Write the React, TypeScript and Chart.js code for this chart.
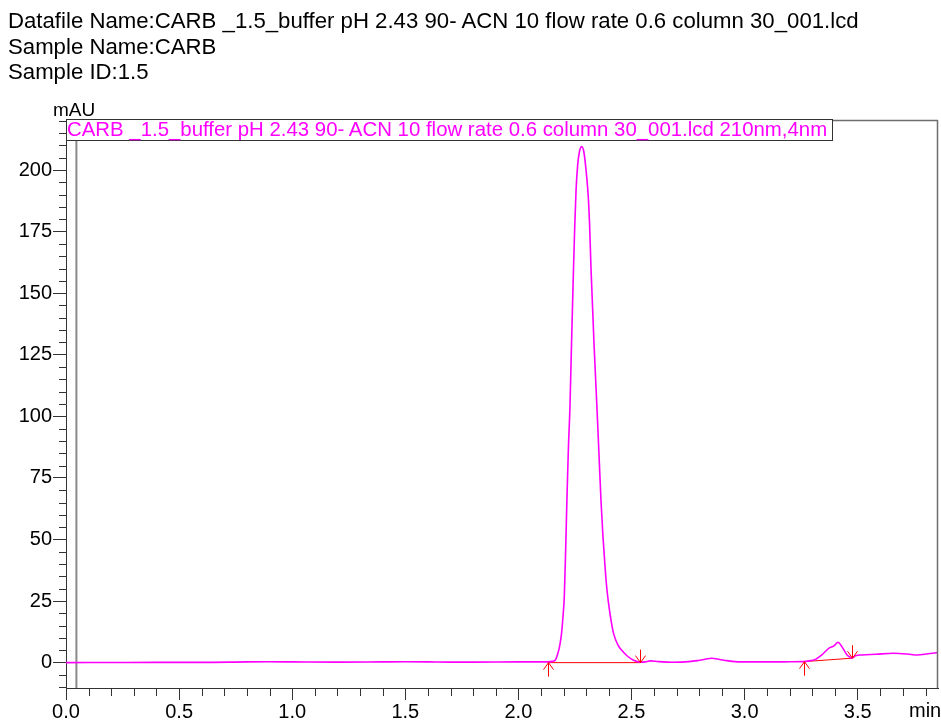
import { useEffect, useRef } from "react";
import { Chart, registerables } from "chart.js";

Chart.register(...registerables);

const headerLines = [
  "Datafile Name:CARB _1.5_buffer pH 2.43 90- ACN 10 flow rate 0.6 column 30_001.lcd",
  "Sample Name:CARB",
  "Sample ID:1.5",
];
const legendLabel = "CARB _1.5_buffer pH 2.43 90- ACN 10 flow rate 0.6 column 30_001.lcd 210nm,4nm";
const yUnit = "mAU";
const xUnit = "min";

const timeMin = [
  0, 0.2, 0.4, 0.6, 0.8, 0.9, 1.0, 1.2, 1.4, 1.5, 1.6, 1.7, 1.8, 2.0, 2.1, 2.13, 2.15, 2.162,
  2.175, 2.184, 2.191, 2.197, 2.203, 2.209, 2.215, 2.221, 2.228, 2.235, 2.243, 2.249, 2.255,
  2.262, 2.27, 2.28, 2.29, 2.3, 2.309, 2.315, 2.321, 2.335, 2.348, 2.357, 2.365, 2.374, 2.383,
  2.39, 2.398, 2.41, 2.42, 2.44, 2.457, 2.48, 2.507, 2.538, 2.56, 2.582, 2.62, 2.685,
  2.74, 2.789, 2.82, 2.855, 2.89, 2.922, 2.98, 3.05, 3.13, 3.2, 3.261, 3.29, 3.313, 3.34, 3.372,
  3.395, 3.413, 3.43, 3.453, 3.467, 3.475, 3.49, 3.519, 3.58, 3.659, 3.72, 3.763, 3.81, 3.855,
];
const signalMAU = [
  0, 0.05, 0.1, 0.1, 0.3, 0.35, 0.3, 0.2, 0.3, 0.35, 0.3, 0.2, 0.2, 0.3, 0.3, 0.3, 0.5, 0.9,
  3.9, 7.5, 12.1, 18.5, 27, 46, 68, 87, 104, 130, 158, 177, 192,
  202, 207.5, 209.5, 207, 199, 189, 177, 160, 128, 102, 83, 66, 51, 39,
  31, 24.5, 17, 12.1, 7.2, 5, 2.8, 1.1, 0.2, 0.3, 0.7, 0.4, 0.15,
  0.3, 0.8, 1.3, 1.8, 1.3, 0.8, 0.3, 0.3, 0.3, 0.35, 0.4, 0.8, 1.3, 3.0, 5.8,
  6.8, 8.3, 6.5, 3.1, 2.2, 1.8, 2.8, 3.1, 3.4, 3.8, 3.5, 3.1, 3.6, 4.1,
];

const peakStartTimes = [2.131, 3.261];
const peakStartLevels = [0, 0.4];
const peakEndTimes = [2.538, 3.475];
const peakEndLevels = [0, 1.8];
const markerLineTime = 0.046;

const xRange = [0, 3.855];
const yRange = [-10.3, 220.3];
const xMajorStep = 0.5;
const xMinorStep = 0.1;
const yMajorStep = 25;
const yMinorStep = 5;

const FONT = "'Liberation Sans', Arial, sans-serif";

const decorPlugin = {
  id: "decor",
  afterDraw(chart: any) {
    const { ctx, chartArea, scales } = chart;
    const { left, right, top, bottom } = chartArea;
    const x = scales.x;
    const y = scales.y;
    ctx.save();
    ctx.strokeStyle = "#333";
    ctx.lineWidth = 1;
    ctx.beginPath();
    const yRatio = Math.round(yMajorStep / yMinorStep);
    for (let i = Math.ceil(yRange[0] / yMinorStep); i * yMinorStep <= yRange[1]; i++) {
      if (i % yRatio === 0) continue;
      const py = Math.round(y.getPixelForValue(i * yMinorStep)) + 0.5;
      ctx.moveTo(left - 7, py);
      ctx.lineTo(left, py);
    }
    const xRatio = Math.round(xMajorStep / xMinorStep);
    for (let i = Math.ceil(xRange[0] / xMinorStep); i * xMinorStep <= xRange[1] + 1e-9; i++) {
      if (i % xRatio === 0) continue;
      const px = Math.round(x.getPixelForValue(i * xMinorStep)) + 0.5;
      ctx.moveTo(px, bottom);
      ctx.lineTo(px, bottom + 8);
    }
    ctx.stroke();
    ctx.strokeStyle = "#6e6e6e";
    ctx.lineWidth = 1.5;
    ctx.beginPath();
    ctx.moveTo(left, top + 0.5);
    ctx.lineTo(right, top + 0.5);
    ctx.moveTo(right - 0.5, top);
    ctx.lineTo(right - 0.5, bottom);
    ctx.stroke();
    ctx.strokeStyle = "#ff0000";
    ctx.lineWidth = 1;
    ctx.beginPath();
    peakStartTimes.forEach((t, i) => {
      const px = Math.round(x.getPixelForValue(t)) + 0.5;
      const py = y.getPixelForValue(peakStartLevels[i]);
      ctx.moveTo(px, py + 14);
      ctx.lineTo(px, py);
      ctx.moveTo(px - 5, py + 7);
      ctx.lineTo(px, py);
      ctx.lineTo(px + 5, py + 7);
    });
    peakEndTimes.forEach((t, i) => {
      const px = Math.round(x.getPixelForValue(t)) + 0.5;
      const py = y.getPixelForValue(peakEndLevels[i]);
      ctx.moveTo(px, py - 13);
      ctx.lineTo(px, py);
      ctx.moveTo(px - 5, py - 7);
      ctx.lineTo(px, py);
      ctx.lineTo(px + 5, py - 7);
    });
    ctx.stroke();
    ctx.restore();
  },
};

export default function App() {
  const canvasRef = useRef<HTMLCanvasElement | null>(null);

  useEffect(() => {
    if (!canvasRef.current) return;
    const trace = timeMin.map((t, i) => ({ x: t, y: signalMAU[i] }));
    const baselines: any[] = [];
    peakStartTimes.forEach((t, i) => {
      baselines.push({ x: t, y: peakStartLevels[i] });
      baselines.push({ x: peakEndTimes[i], y: peakEndLevels[i] });
      if (i < peakStartTimes.length - 1) {
        baselines.push({ x: (peakEndTimes[i] + peakStartTimes[i + 1]) / 2, y: null });
      }
    });
    const marker = [
      { x: markerLineTime, y: yRange[0] },
      { x: markerLineTime, y: yRange[1] },
    ];

    const chart = new Chart(canvasRef.current, {
      type: "line",
      data: {
        datasets: [
          {
            data: marker,
            borderColor: "#8a8a8a",
            borderWidth: 2,
            pointRadius: 0,
            order: 3,
          },
          {
            data: baselines,
            borderColor: "#ff0000",
            borderWidth: 1,
            pointRadius: 0,
            spanGaps: false,
            order: 2,
          },
          {
            data: trace,
            borderColor: "#ff00ff",
            borderWidth: 1.6,
            pointRadius: 0,
            cubicInterpolationMode: "monotone",
            order: 1,
          },
        ],
      },
      options: {
        animation: false,
        responsive: false,
        parsing: false as any,
        layout: { padding: { top: 120, right: 3, left: 0, bottom: 0 } },
        plugins: { legend: { display: false }, tooltip: { enabled: false } },
        scales: {
          x: {
            type: "linear",
            min: xRange[0],
            max: xRange[1],
            ticks: {
              stepSize: xMajorStep,
              includeBounds: false,
              autoSkip: false,
              maxRotation: 0,
              padding: 0,
              color: "#000",
              font: { family: FONT, size: 20 },
              callback: (v: any) => Number(v).toFixed(1),
            },
            grid: { drawOnChartArea: false, drawTicks: true, tickLength: 12, color: "#333" },
            border: { color: "#333", width: 1 },
            afterFit: (s: any) => {
              s.height = 34;
            },
          },
          y: {
            type: "linear",
            min: yRange[0],
            max: yRange[1],
            ticks: {
              stepSize: yMajorStep,
              includeBounds: false,
              autoSkip: false,
              padding: 1,
              color: "#000",
              font: { family: FONT, size: 20 },
              callback: (v: any) => String(Math.round(Number(v))),
            },
            grid: { drawOnChartArea: false, drawTicks: true, tickLength: 13, color: "#333" },
            border: { color: "#333", width: 1 },
            afterFit: (s: any) => {
              s.width = 66;
            },
          },
        },
      },
      plugins: [decorPlugin],
    });
    return () => chart.destroy();
  }, []);

  return (
    <div style={{ position: "absolute", left: 0, top: 0, width: 941, height: 722, background: "#fff", fontFamily: FONT }}>
      <canvas ref={canvasRef} width={941} height={722} style={{ position: "absolute", left: 0, top: 0 }} />
      <div style={{ position: "absolute", left: 8, top: 8, fontSize: 22.2, lineHeight: "25.5px", color: "#000", whiteSpace: "nowrap" }}>
        {headerLines.map((l, i) => (
          <div key={i}>{l}</div>
        ))}
      </div>
      <div style={{ position: "absolute", left: 53, top: 100, fontSize: 19, lineHeight: "19px", color: "#000" }}>{yUnit}</div>
      <div style={{ position: "absolute", left: 909, top: 700, fontSize: 20, lineHeight: "20px", color: "#000" }}>{xUnit}</div>
      <div
        style={{
          position: "absolute",
          left: 66,
          top: 119,
          width: 767,
          height: 22,
          boxSizing: "border-box",
          border: "1.5px solid #333",
          background: "#fff",
        }}
      />
      <div style={{ position: "absolute", left: 67, top: 119, fontSize: 20.4, lineHeight: "20px", color: "#ff00ff", whiteSpace: "nowrap" }}>
        {legendLabel}
      </div>
    </div>
  );
}
